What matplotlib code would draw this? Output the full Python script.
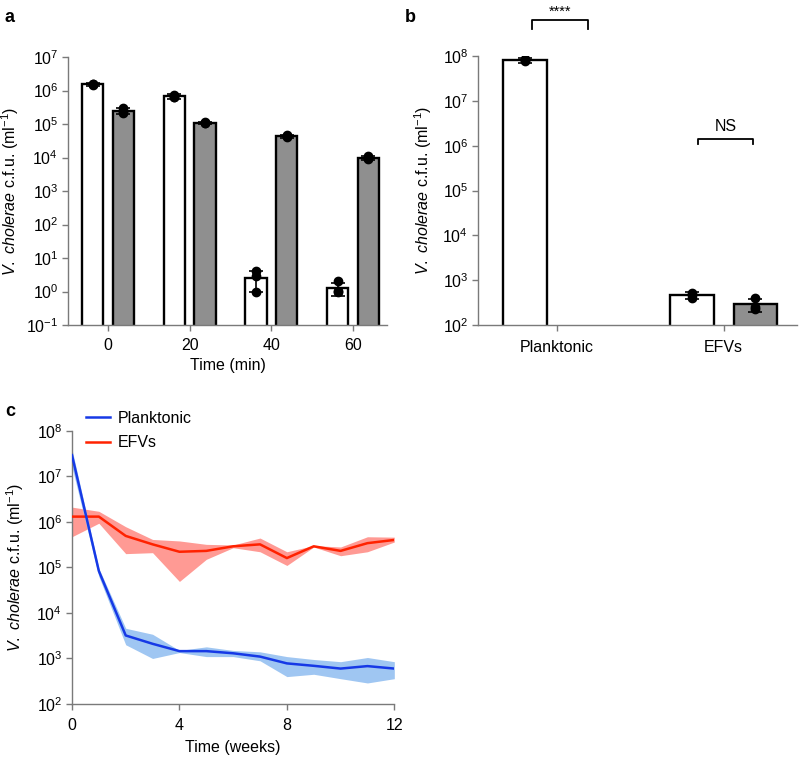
import numpy as np
import matplotlib
matplotlib.use('Agg')
import matplotlib.pyplot as plt
from matplotlib.ticker import LogLocator, NullLocator, LogFormatterSciNotation

plt.rcParams['font.family'] = ['Liberation Sans', 'DejaVu Sans']
plt.rcParams['font.size'] = 11.5
plt.rcParams['mathtext.fontset'] = 'custom'
plt.rcParams['mathtext.rm'] = 'Liberation Sans'
plt.rcParams['mathtext.it'] = 'Liberation Sans:italic'
plt.rcParams['mathtext.bf'] = 'Liberation Sans:bold'

YLABEL = r'$\mathit{V.\ cholerae}$ c.f.u. (ml$^{-1}$)'
SPINE = '#7a7a7a'
GRAY_BAR = '#8f8f8f'
FS = 11.5

# --- panel a: survival over time (white = first condition, gray = second)
a_times = [0, 20, 40, 60]
a_white_mean = [1.55e6, 6.7e5, 2.6, 1.25]
a_white_err = [1.5e5, 1.0e5, 1.6, 0.5]
a_white_dots = [[1.5e6, 1.6e6, 1.55e6], [7.5e5, 6.3e5, 6.5e5], [4.2, 3.0, 1.0], [2.0, 1.05, 1.0]]
a_gray_mean = [2.5e5, 1.08e5, 4.3e4, 9.6e3]
a_gray_err = [5e4, 8e3, 4e3, 1.2e3]
a_gray_dots = [[3.1e5, 2.5e5, 2.1e5], [1.1e5, 1.08e5, 1.12e5], [4.8e4, 4.4e4, 4.2e4], [1.1e4, 9.8e3, 9.2e3]]

# --- panel b
b_groups = ['Planktonic', 'EFVs']
b_white_mean = [8.0e7, 4.6e2]
b_white_err = [1.0e7, 8e1]
b_white_dots = [[8.6e7, 7.6e7, 8.0e7], [5.2e2, 4.6e2, 4.1e2]]
b_gray_mean = [np.nan, 2.9e2]
b_gray_err = [np.nan, 9e1]
b_gray_dots = [[], [4.0e2, 2.5e2, 2.3e2]]

# --- panel c: long-term survival
c_weeks = list(range(13))
c_plank = [2.9e7, 8.3e4, 3.2e3, 2.1e3, 1.45e3, 1.45e3, 1.3e3, 1.1e3, 7.8e2, 6.9e2, 6.0e2, 6.8e2, 6.0e2]
c_plank_hi = [3.9e7, 9.5e4, 4.6e3, 3.4e3, 1.5e3, 1.8e3, 1.5e3, 1.4e3, 1.1e3, 9.5e2, 8.5e2, 1.05e3, 8.5e2]
c_plank_lo = [1.6e7, 6.3e4, 2.0e3, 1.0e3, 1.35e3, 1.1e3, 1.1e3, 8.9e2, 4.0e2, 4.5e2, 3.6e2, 2.9e2, 3.6e2]
c_efv = [1.3e6, 1.3e6, 4.9e5, 3.2e5, 2.2e5, 2.3e5, 2.9e5, 3.2e5, 1.6e5, 2.9e5, 2.3e5, 3.4e5, 4.0e5]
c_efv_hi = [2.1e6, 1.7e6, 7.8e5, 4.1e5, 3.8e5, 3.2e5, 3.1e5, 4.4e5, 2.2e5, 3.0e5, 2.8e5, 4.7e5, 4.6e5]
c_efv_lo = [4.7e5, 9.3e5, 2.0e5, 2.1e5, 4.9e4, 1.5e5, 2.7e5, 2.2e5, 1.1e5, 2.8e5, 1.8e5, 2.2e5, 3.6e5]


def style_axes(ax):
    for side in ['top', 'right']:
        ax.spines[side].set_visible(False)
    for side in ['left', 'bottom']:
        ax.spines[side].set_color(SPINE)
        ax.spines[side].set_linewidth(1.0)
    ax.tick_params(direction='out', length=4, width=1.0, color=SPINE,
                   labelsize=FS, pad=3)
    ax.set_yscale('log')
    ax.yaxis.set_major_locator(LogLocator(base=10, numticks=20))
    ax.yaxis.set_minor_locator(NullLocator())
    ax.yaxis.set_major_formatter(LogFormatterSciNotation())


def bars_with_dots(ax, x, means, errs, dots, color, width):
    for xi, m, e, d in zip(x, means, errs, dots):
        if np.isnan(m):
            continue
        ax.bar(xi, m, width=width, bottom=1e-6, color=color, edgecolor='black',
               linewidth=1.7, zorder=2)
        ax.errorbar(xi, m, yerr=e, fmt='none', ecolor='black', elinewidth=1.2,
                    capsize=5, capthick=1.2, zorder=3)
        ax.plot([xi] * len(d), d, 'o', color='black', markersize=6, zorder=4)


def bracket(ax, x0, x1, y, leg, text, ty, size):
    ax.plot([x0, x0, x1, x1], [leg, y, y, leg], color='black', lw=1.3,
            clip_on=False)
    ax.text((x0 + x1) / 2, ty, text, ha='center', va='bottom', fontsize=size,
            clip_on=False)


fig = plt.figure(figsize=(8, 7.58), dpi=100)

# panel a
ax_a = fig.add_axes([0.085, 0.5712, 0.399, 0.3536])
style_axes(ax_a)
off_a, w_a = 3.75, 5.2
bars_with_dots(ax_a, [t - off_a for t in a_times], a_white_mean, a_white_err,
               a_white_dots, 'white', w_a)
bars_with_dots(ax_a, [t + off_a for t in a_times], a_gray_mean, a_gray_err,
               a_gray_dots, GRAY_BAR, w_a)
ax_a.set_ylim(1e-1, 1e7)
ax_a.set_xlim(-9.8, 68.4)
ax_a.set_xticks(a_times)
ax_a.tick_params(axis='x', pad=5)
ax_a.set_xlabel('Time (min)', fontsize=FS, labelpad=4)
ax_a.set_ylabel(YLABEL, fontsize=FS)
ax_a.yaxis.set_label_coords(-0.147, 0.5)

# panel b
ax_b = fig.add_axes([0.5975, 0.5712, 0.399, 0.3549])
style_axes(ax_b)
off_b, w_b = 0.19, 0.26
xb = np.arange(len(b_groups))
bars_with_dots(ax_b, xb - off_b, b_white_mean, b_white_err, b_white_dots, 'white', w_b)
bars_with_dots(ax_b, xb + off_b, b_gray_mean, b_gray_err, b_gray_dots, GRAY_BAR, w_b)
ax_b.set_ylim(1e2, 1e8)
ax_b.set_xlim(-0.47, 1.44)
ax_b.set_xticks(xb)
ax_b.set_xticklabels(b_groups)
ax_b.tick_params(axis='x', pad=7)
ax_b.set_ylabel(YLABEL, fontsize=FS)
ax_b.yaxis.set_label_coords(-0.138, 0.5)
bracket(ax_b, -0.145, 0.19, 6.3e8, 4.0e8, '****', 6.6e8, 10.5)
bracket(ax_b, 0.845, 1.175, 1.4e6, 1.1e6, 'NS', 1.8e6, FS)

# panel c
ax_c = fig.add_axes([0.09, 0.0712, 0.4029, 0.3606])
style_axes(ax_c)
ax_c.fill_between(c_weeks, c_efv_lo, c_efv_hi, color='#ff9a94', lw=0, zorder=1)
ax_c.fill_between(c_weeks, c_plank_lo, c_plank_hi, color='#9fc6f2', lw=0, zorder=2)
ax_c.plot(c_weeks, c_plank, color='#1639e6', lw=1.8, label='Planktonic', zorder=4)
ax_c.plot(c_weeks, c_efv, color='#ff2200', lw=1.8, label='EFVs', zorder=3)
ax_c.set_ylim(1e2, 1e8)
ax_c.set_xlim(0, 12)
ax_c.set_xticks([0, 4, 8, 12])
ax_c.tick_params(axis='x', pad=6)
ax_c.set_xlabel('Time (weeks)', fontsize=FS, labelpad=5)
ax_c.set_ylabel(YLABEL, fontsize=FS)
ax_c.yaxis.set_label_coords(-0.143, 0.5)
ax_c.legend(loc='upper left', bbox_to_anchor=(0.0, 1.125), frameon=False,
            fontsize=FS, handlelength=1.45, labelspacing=0.6, handletextpad=0.5)

# panel letters
fig.text(0.006, 0.988, 'a', fontsize=13, fontweight='bold', va='top')
fig.text(0.506, 0.988, 'b', fontsize=13, fontweight='bold', va='top')
fig.text(0.006, 0.468, 'c', fontsize=13, fontweight='bold', va='top')

fig.savefig('out.png', dpi=100)
